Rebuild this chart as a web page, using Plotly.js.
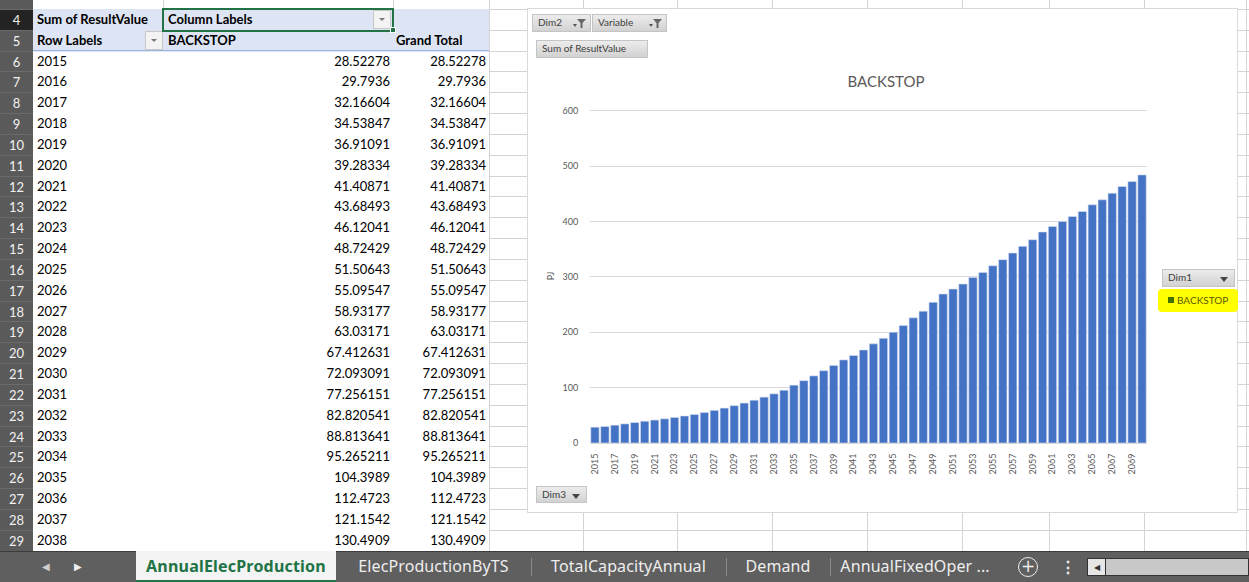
<!DOCTYPE html>
<html><head><meta charset="utf-8">
<script src="https://cdn.plot.ly/plotly-3.0.1.min.js"></script>
<style>
html,body{margin:0;padding:0;width:1249px;height:582px;overflow:hidden;background:#fff;font-family:Lato,"Liberation Sans",sans-serif;}
.abs{position:absolute;box-sizing:border-box;white-space:nowrap;}
</style></head><body>
<div id="sheet" class="abs" style="left:0;top:0;width:1249px;height:582px;overflow:hidden"></div>
<div id="chartbox" class="abs" style="left:527px;top:8px;width:711px;height:505px;border:1px solid #d9d9d9;background:#fff;">
  <div id="chart" style="width:709px;height:503px"></div>
</div>
<div id="overlay" class="abs" style="left:0;top:0;width:1249px;height:582px;pointer-events:none"></div>
<script>
// ---- data ----
const years = [2015,2016,2017,2018,2019,2020,2021,2022,2023,2024,2025,2026,2027,2028,2029,2030,2031,2032,2033,2034,2035,2036,2037,2038,2039,2040,2041,2042,2043,2044,2045,2046,2047,2048,2049,2050,2051,2052,2053,2054,2055,2056,2057,2058,2059,2060,2061,2062,2063,2064,2065,2066,2067,2068,2069,2070];
const values = [28.52278,29.7936,32.16604,34.53847,36.91091,39.28334,41.40871,43.68493,46.12041,48.72429,51.50643,55.09547,58.93177,63.03171,67.412631,72.093091,77.256151,82.820541,88.813641,95.265211,104.3989,112.4723,121.1542,130.4909,140,150,158,168,179,189,200,212,226,238,254,269,278,287,299,308,320,331,343,355,367,381,391,400,409,418,430,439,451,463,472,484];
const seriesName = 'BACKSTOP';
const yTitle = 'PJ';
const pivotHeader1 = ['Sum of ResultValue','Column Labels'];
const pivotHeader2 = ['Row Labels','BACKSTOP','Grand Total'];
const visibleRows = 24;
const sheetTabs = ['AnnualElecProduction','ElecProductionByTS','TotalCapacityAnnual','Demand','AnnualFixedOper ...'];
const fieldButtons = ['Dim2','Variable','Sum of ResultValue','Dim3','Dim1'];

// ---- spreadsheet ----
const sheet = document.getElementById('sheet');
const overlay = document.getElementById('overlay');
function box(parent,l,t,w,h,style,html){
  const d=document.createElement('div'); d.className='abs';
  d.style.left=l+'px'; d.style.top=t+'px'; d.style.width=w+'px'; d.style.height=h+'px';
  if(style) d.style.cssText += style;
  if(html!=null) d.innerHTML=html;
  parent.appendChild(d); return d;
}
const RH = 20.83, Y0 = 9;
const rowTop = r => Y0 + (r-4)*RH;
const GRID = '#d4d4d4';
for(let k=0;k<=26;k++){
  const y = Math.round(Y0 + k*RH);
  box(sheet, k===0?33:490, y, k===0?1216:759, 1, 'background:'+GRID);
}
[163,393].forEach(x=>box(sheet,x,0,1,9,'background:'+GRID));
[489,583,677,772,867,962,1049,1144,1246].forEach(x=>box(sheet,x,0,1,551,'background:'+GRID));
box(sheet,33,Math.round(rowTop(4)),456,Math.round(2*RH)+1,'background:#dde4f4');
box(sheet,33,Math.round(rowTop(6))-1,456,1,'background:#9fb5e0');
const txt = 'font-size:13px;color:#000;line-height:'+RH+'px;';
box(sheet,37,rowTop(4),120,RH,txt+'font-weight:bold',pivotHeader1[0]);
box(sheet,168,rowTop(4),120,RH,txt+'font-weight:bold',pivotHeader1[1]);
box(sheet,37,rowTop(5),120,RH,txt+'font-weight:bold',pivotHeader2[0]);
box(sheet,168,rowTop(5),120,RH,txt+'font-weight:bold',pivotHeader2[1]);
box(sheet,396,rowTop(5),90,RH,txt+'font-weight:bold',pivotHeader2[2]);
function dd(l,t){
  const d=box(sheet,l,t,18,19,'background:#f3f3f3;border:1px solid #c8c8c8;');
  box(d,5,7,7,0,'border-left:3.5px solid transparent;border-right:3.5px solid transparent;border-top:3px solid #777;width:0;');
}
dd(145,Math.round(rowTop(5))+1);
dd(373,Math.round(rowTop(4))+1);
for(let i=0;i<visibleRows;i++){
  const r=6+i, t=rowTop(r);
  box(sheet,37,t,100,RH,txt,String(years[i]));
  box(sheet,250,t,140,RH,txt+'text-align:right',String(values[i]));
  box(sheet,390,t,96,RH,txt+'text-align:right',String(values[i]));
}
box(sheet,162,Math.round(rowTop(4))-1,232,Math.round(RH)+3,'border:2px solid #217346;');
box(sheet,390,Math.round(rowTop(5))-3,6,6,'background:#217346;border:1px solid #fff;');
box(sheet,0,0,33,551,'background:#5a5a5a');
for(let r=4;r<=29;r++){
  const t=rowTop(r);
  box(sheet,0,t,33,RH,'background:'+(r===4?'#232323':'#5a5a5a')+';color:#f2f2f2;font-size:13px;text-align:center;line-height:'+RH+'px;border-top:1px solid #6a6a6a',String(r));
}
// sheet tabs bar
box(sheet,0,551,1249,31,'background:#5f5f5f;border-top:1px solid #3c3c3c');
box(sheet,36,551,20,31,'color:#cfcfcf;font-size:10px;line-height:31px;text-align:center','&#9664;');
box(sheet,68,551,20,31,'color:#eeeeee;font-size:10px;line-height:31px;text-align:center','&#9654;');
const tabFont = 'font-family:"Noto Sans","Open Sans",sans-serif;line-height:31px;text-align:center;';
box(sheet,136,551,200,31,tabFont+'font-size:16px;letter-spacing:0.2px;background:#f4f4f4;color:#217346;font-weight:bold;border-bottom:2px solid #217346',sheetTabs[0]);
const tabPos=[[336,195],[531,195],[726,104],[830,170]];
tabPos.forEach((p,i)=>{
  box(sheet,p[0],551,p[1],31,tabFont+'font-size:16px;letter-spacing:0.1px;color:#eeeeee',sheetTabs[i+1]);
  if(i>0) box(sheet,p[0],558,1,18,'background:#8a8a8a');
});
box(sheet,1018,557,20,20,'border:1.5px solid #eee;border-radius:50%;color:#eee;font-size:17px;line-height:16px;text-align:center;font-family:"DejaVu Sans"','+');
box(sheet,1060,551,14,31,'color:#eee;font-size:16px;line-height:31px;text-align:center;font-weight:bold','&#8942;');
box(sheet,1087,558,162,18,'background:#c8c8c8;border:1px solid #333');
box(sheet,1088,559,18,16,'background:#e6e6e6;border-right:1px solid #333;color:#333;font-size:8px;line-height:16px;text-align:center','&#9664;');

// ---- chart field buttons and legend ----
const funnel = '<svg width="14" height="10" style="position:absolute;right:4px;top:4px"><polygon points="1,5 5,5 3,8" fill="#555"/><polygon points="5,0 14,0 10.5,4 10.5,9 8.5,9 8.5,4" fill="#666"/></svg>';
const arrow = '<div style="position:absolute;right:6px;top:7px;width:0;height:0;border-left:4px solid transparent;border-right:4px solid transparent;border-top:5px solid #444"></div>';
const btn = 'background:linear-gradient(#ececec,#d2d2d2);border:1px solid #c4c4c4;color:#404040;font-size:10px;line-height:15px;padding-left:5px;';
box(overlay,532,14,59,18,btn,fieldButtons[0]+funnel);
box(overlay,592,14,75,18,btn,fieldButtons[1]+funnel);
box(overlay,536,40,112,18,btn,fieldButtons[2]);
box(overlay,536,486,51,17,btn,fieldButtons[3]+arrow);
box(overlay,1162,269,73,18,btn,fieldButtons[4]+arrow);
const lg = box(overlay,1158,289,80,23,'background:#ffff00;border-radius:4px;');
box(lg,10,8,6,6,'background:#447200');
box(lg,19,0,60,23,'color:#5a5a00;font-size:10px;line-height:23px',seriesName);

// ---- chart ----
const trace = {
  type:'bar', x:years, y:values, name:seriesName,
  marker:{color:'#4472c4', line:{color:'#d6e0f5', width:0.6}},
  showlegend:false, hoverinfo:'skip'
};
const layout = {
  width:709, height:503,
  margin:{l:62, r:90, t:100, b:69},
  paper_bgcolor:'#ffffff', plot_bgcolor:'#ffffff',
  font:{family:'Lato, "Liberation Sans", sans-serif', color:'#595959', size:9},
  title:{text:seriesName, font:{size:15, color:'#595959'}, xref:'container', x:(886-528)/709, xanchor:'center', yref:'container', y:1-(82-9)/503, yanchor:'middle'},
  bargap:0.16,
  xaxis:{range:[2014.5,2070.5], tickmode:'linear', tick0:2015, dtick:2, tickangle:-90,
         showgrid:false, zeroline:false, showline:true, linecolor:'#d9d9d9', linewidth:1,
         ticks:'outside', ticklen:6, tickcolor:'rgba(0,0,0,0)', tickfont:{size:9, color:'#595959'}, fixedrange:true},
  yaxis:{range:[0,603], tickmode:'linear', tick0:0, dtick:100, showgrid:true, gridcolor:'#d9d9d9', gridwidth:1,
         zeroline:false, showline:false, ticks:'outside', ticklen:9, tickcolor:'rgba(0,0,0,0)',
         tickfont:{size:9, color:'#595959'}, title:{text:yTitle, font:{size:9, color:'#595959'}, standoff:6}, fixedrange:true}
};
Plotly.newPlot('chart',[trace],layout,{displayModeBar:false, staticPlot:true});
</script>
</body></html>
